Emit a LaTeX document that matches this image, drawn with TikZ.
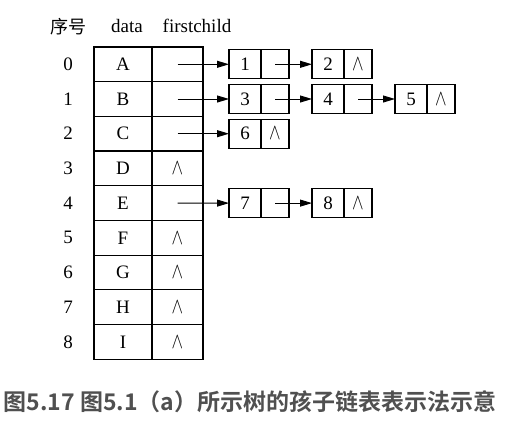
\documentclass[tikz,border=0pt]{standalone}
\usepackage{fontspec}
\setmainfont{Liberation Serif}
\newfontfamily\cjk{Noto Sans CJK SC}[BoldFont={Noto Sans CJK SC Bold}]
\usetikzlibrary{arrows.meta}
\definecolor{capgray}{HTML}{505050}
\newcommand{\nullp}{\scalebox{1.0}[1.3]{$\wedge$}}
\begin{document}
\begin{tikzpicture}[x=1pt,y=-1pt,
  txt/.style={font=\fontsize{19}{22}\selectfont},
  cell/.style={draw, line width=1.2pt, inner sep=0pt, outer sep=0pt, minimum height=34.7pt, txt},
  dcell/.style={cell, minimum width=58pt},
  pcell/.style={cell, minimum width=51pt},
  ncell/.style={draw, line width=1.2pt, inner sep=0pt, outer sep=0pt, minimum height=29pt, minimum width=32pt, txt},
  npcell/.style={ncell, minimum width=28pt},
  link/.style={line width=0.9pt, -{Triangle[length=12pt,width=7pt]}},
]
\useasboundingbox (0,0) rectangle (508,439);
% headers
\node[font=\cjk\fontsize{18}{20}\selectfont] (h0) at (68,26.5) {序号};
\node[txt, anchor=base] (h1) at (127,32.5) {data};
\node[txt, anchor=base] (h2) at (197,32.5) {firstchild};
% table
\foreach \i/\t/\z in {0/A/0,1/B/0,2/C/0,3/D/1,4/E/0,5/F/1,6/G/1,7/H/1,8/I/1}{
  \node[txt] (r\i) at (68,{64.3+34.7*\i}) {\i};
  \node[dcell] (d\i) at (123,{64.3+34.7*\i}) {\t};
  \node[pcell, anchor=west] (p\i) at (d\i.east) {\ifnum\z=1 \nullp\fi};
}
% child lists
\node[ncell] (n1) at (245,64.3) {1};
\node[npcell, anchor=west] (n1p) at (n1.east) {};
\node[ncell] (n2) at (328,64.3) {2};
\node[npcell, anchor=west] (n2p) at (n2.east) {\nullp};
\node[ncell] (n3) at (245,99) {3};
\node[npcell, anchor=west] (n3p) at (n3.east) {};
\node[ncell] (n4) at (328,99) {4};
\node[npcell, anchor=west] (n4p) at (n4.east) {};
\node[ncell] (n5) at (411,99) {5};
\node[npcell, anchor=west] (n5p) at (n5.east) {\nullp};
\node[ncell] (n6) at (245,133.7) {6};
\node[npcell, anchor=west] (n6p) at (n6.east) {\nullp};
\node[ncell] (n7) at (245,203.1) {7};
\node[npcell, anchor=west] (n7p) at (n7.east) {};
\node[ncell] (n8) at (328,203.1) {8};
\node[npcell, anchor=west] (n8p) at (n8.east) {\nullp};
% links
\draw[link] (p0.center) -- (n1.west);
\draw[link] (n1p.center) -- (n2.west);
\draw[link] (p1.center) -- (n3.west);
\draw[link] (n3p.center) -- (n4.west);
\draw[link] (n4p.center) -- (n5.west);
\draw[link] (p2.center) -- (n6.west);
\draw[link] (p4.center) -- (n7.west);
\draw[link] (n7p.center) -- (n8.west);
% caption
\node[font=\cjk\bfseries\fontsize{23}{26}\selectfont, text=capgray] (cap) at (250,402) {图5.17 图5.1（a）所示树的孩子链表表示法示意};
\end{tikzpicture}
\end{document}
